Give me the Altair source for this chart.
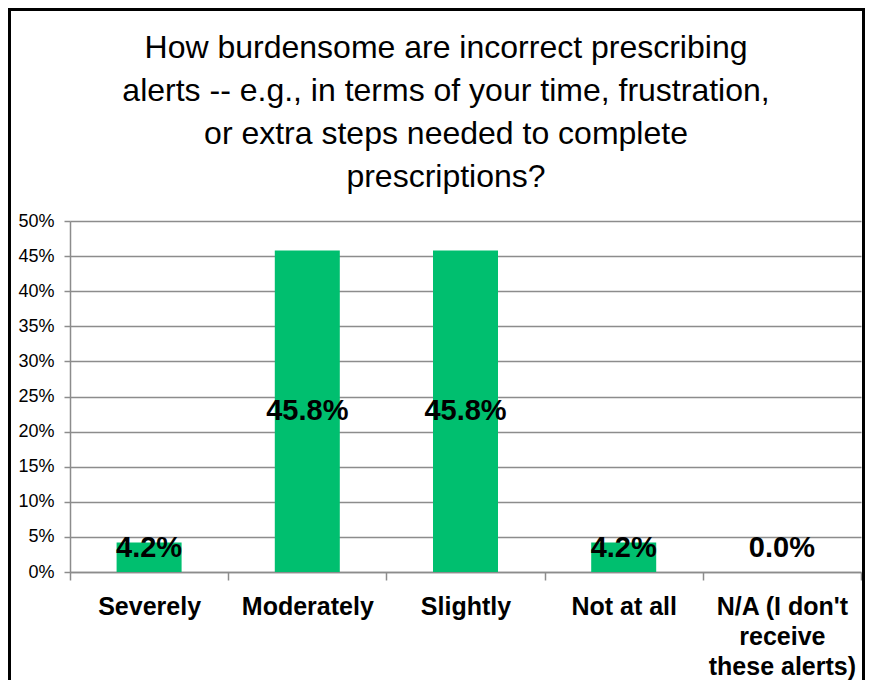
import altair as alt
import pandas as pd

categories = ["Severely", "Moderately", "Slightly", "Not at all",
              "N/A (I don't\nreceive\nthese alerts)"]
values = [4.2, 45.8, 45.8, 4.2, 0.0]
y_ticks = [0, 5, 10, 15, 20, 25, 30, 35, 40, 45, 50]
title_lines = ["How burdensome are incorrect prescribing",
               "alerts -- e.g., in terms of your time, frustration,",
               "or extra steps needed to complete",
               "prescriptions?"]

GRAY = "#8c8c8c"
GREEN = "#00bf6f"
FONT = "Liberation Sans"

df = pd.DataFrame({"category": categories, "value": values})

x_axis = alt.Axis(title=None, labelAngle=0, labelFont=FONT, labelFontWeight="bold",
                  labelFontSize=25, labelColor="black",
                  labelExpr="split(datum.label, '\\n')", labelLineHeight=30,
                  labelPadding=14, labelBaseline="top", tickBand="extent", tickSize=8,
                  tickColor=GRAY, tickWidth=1.5, domainColor=GRAY, domainWidth=1.5,
                  grid=False, labelOverlap=False)
y_axis = alt.Axis(values=y_ticks, labelExpr="datum.value + '%'",
                  labelFont=FONT, labelFontSize=18, labelColor="black",
                  labelPadding=10, tickSize=6, tickColor=GRAY, tickWidth=1.5,
                  domainColor=GRAY, domainWidth=1.5, gridColor=GRAY,
                  gridWidth=1.5, grid=True, labelOverlap=False)
x_scale = alt.Scale(paddingInner=0, paddingOuter=0)
y_scale = alt.Scale(domain=[0, 50])

bars = alt.Chart(df).mark_bar(color=GREEN, size=65).encode(
    x=alt.X("category:N", sort=categories, scale=x_scale, axis=x_axis),
    y=alt.Y("value:Q", title=None, scale=y_scale, axis=y_axis),
)

labels = alt.Chart(df).transform_calculate(
    lab="format(datum.value, '.1f') + '%'",
    ypos="max(datum.value / 2, 3.4)",
).mark_text(font=FONT, fontWeight="bold", fontSize=29,
            baseline="middle", color="black").encode(
    x=alt.X("category:N", sort=categories, scale=x_scale, axis=x_axis),
    y=alt.Y("ypos:Q", title=None, scale=y_scale, axis=y_axis),
    text="lab:N",
)

one = pd.DataFrame({"k": [0]})

title = alt.Chart(one).mark_text(
    text=title_lines, font=FONT, fontSize=32, lineHeight=43, align="center",
    baseline="alphabetic", color="black", clip=False
).encode(x=alt.value(376), y=alt.value(-163))

border = alt.Chart(one).mark_rect(
    fillOpacity=0, stroke="black", strokeWidth=3, clip=False
).encode(
    x=alt.value(-60.5), x2=alt.value(793.5), y=alt.value(-211.5), y2=alt.value(700)
)

chart = alt.layer(bars, labels, title, border).properties(
    width=791, height=351,
    autosize=alt.AutoSizeParams(type="none"),
    padding={"left": 62, "top": 213, "right": 4, "bottom": 108},
).configure_view(stroke=None)

chart.save("out.html", embed_options={"renderer": "svg", "actions": False})
